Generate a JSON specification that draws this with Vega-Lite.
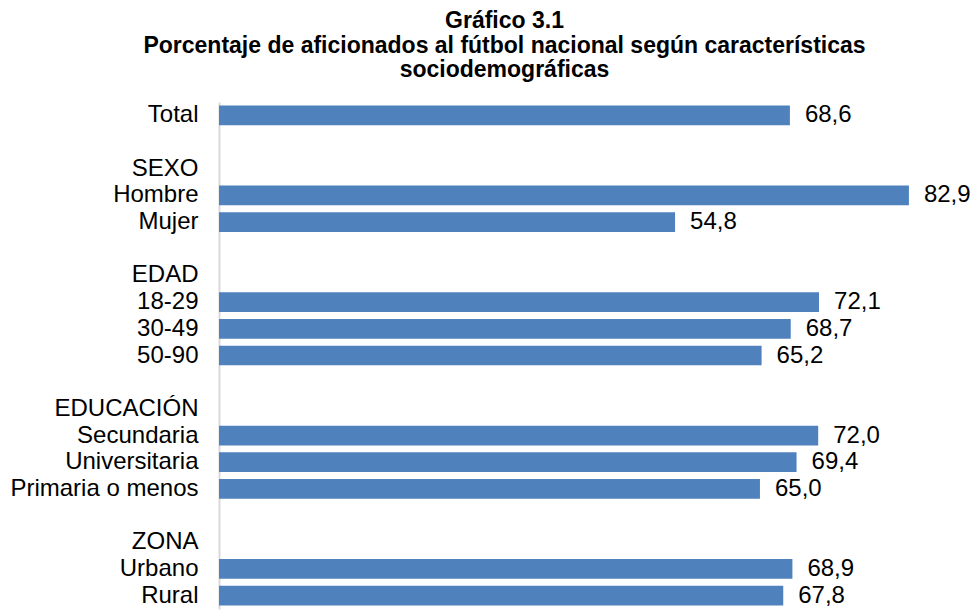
{
  "$schema": "https://vega.github.io/schema/vega-lite/v6.json",
  "width": 749,
  "height": 507,
  "autosize": "none",
  "padding": {"left": 219, "top": 102, "right": 9, "bottom": 1},
  "background": "white",
  "config": {
    "view": {"stroke": null},
    "font": "Liberation Sans",
    "locale": {"number": {"decimal": ",", "thousands": ".", "grouping": [3], "currency": ["", " €"]}}
  },
  "title": {
    "text": ["Gráfico 3.1", "Porcentaje de aficionados al fútbol nacional según características", "sociodemográficas"],
    "fontSize": 23,
    "lineHeight": 24.5,
    "fontWeight": "bold",
    "font": "Liberation Sans",
    "color": "#000000",
    "anchor": "middle",
    "frame": "group",
    "dx": -89,
    "offset": 20
  },
  "data": {
    "values": [
      {"cat": "Total", "value": 68.6},
      {"cat": " ", "value": null},
      {"cat": "SEXO", "value": null},
      {"cat": "Hombre", "value": 82.9},
      {"cat": "Mujer", "value": 54.8},
      {"cat": "  ", "value": null},
      {"cat": "EDAD", "value": null},
      {"cat": "18-29", "value": 72.1},
      {"cat": "30-49", "value": 68.7},
      {"cat": "50-90", "value": 65.2},
      {"cat": "   ", "value": null},
      {"cat": "EDUCACIÓN", "value": null},
      {"cat": "Secundaria", "value": 72.0},
      {"cat": "Universitaria", "value": 69.4},
      {"cat": "Primaria o menos", "value": 65.0},
      {"cat": "    ", "value": null},
      {"cat": "ZONA", "value": null},
      {"cat": "Urbano", "value": 68.9},
      {"cat": "Rural", "value": 67.8}
    ]
  },
  "encoding": {
    "y": {
      "field": "cat",
      "type": "nominal",
      "sort": null,
      "scale": {
        "domain": ["Total", " ", "SEXO", "Hombre", "Mujer", "  ", "EDAD", "18-29", "30-49", "50-90", "   ", "EDUCACIÓN", "Secundaria", "Universitaria", "Primaria o menos", "    ", "ZONA", "Urbano", "Rural"],
        "paddingInner": 0.26,
        "paddingOuter": 0.13
      },
      "axis": {
        "title": null,
        "ticks": false,
        "labelFontSize": 24,
        "labelColor": "#000000",
        "labelFont": "Liberation Sans",
        "labelPadding": 21,
        "labelLimit": 400,
        "domainColor": "#d9d9d9",
        "domainWidth": 2
      }
    },
    "x": {
      "field": "value",
      "type": "quantitative",
      "scale": {"domain": [0, 90], "nice": false},
      "axis": null
    }
  },
  "layer": [
    {"mark": {"type": "bar", "color": "#4f81bd"}},
    {
      "mark": {"type": "text", "align": "left", "baseline": "middle", "dx": 15, "fontSize": 24, "color": "#000000", "font": "Liberation Sans"},
      "encoding": {"text": {"field": "value", "type": "quantitative", "format": ".1f"}}
    }
  ]
}
